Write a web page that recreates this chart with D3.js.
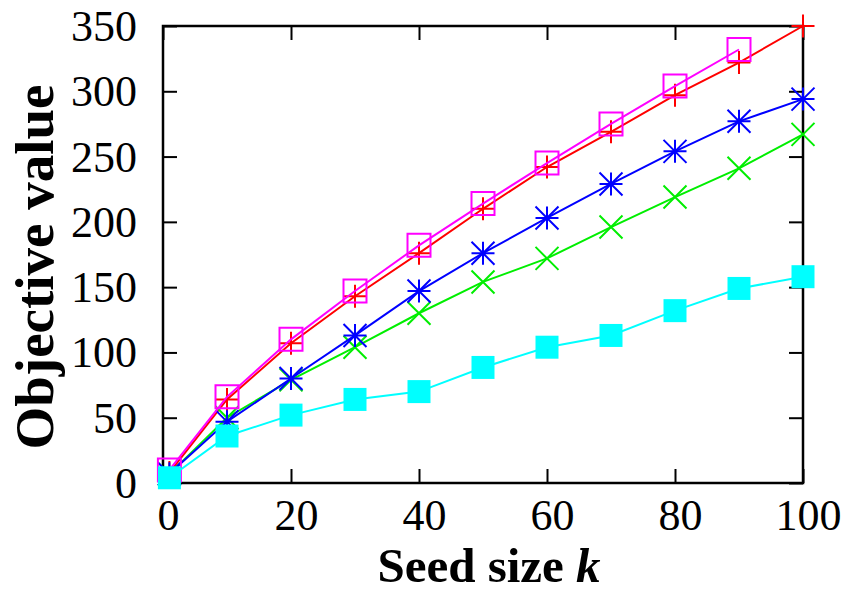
<!DOCTYPE html>
<html>
<head>
<meta charset="utf-8">
<script src="https://cdn.jsdelivr.net/npm/d3@7"></script>
<style>
  body { margin: 0; background: #fff; }
</style>
</head>
<body>
<div id="chart"></div>
<script>
let margin = {top: 26, right: 40, bottom: 110, left: 163},
    width = 843 - margin.left - margin.right,
    height = 593 - margin.top - margin.bottom

// values
const seedSizes = [1, 10, 20, 30, 40, 50, 60, 70, 80, 90, 100]
const redValues = [8, 64, 107, 143, 176, 210, 242, 269, 297, 322, 350]
const greenValues = [7, 50, 79, 104, 130, 154, 172, 196, 219, 241, 267]
const blueValues = [7, 47, 80, 113, 147, 176, 203, 229, 254, 277, 294]
const magentaValues = [10, 66, 110, 147, 182, 214, 245, 275, 304, 332]
const cyanValues = [4, 36, 52, 64, 70, 88.5, 104, 113, 132, 149, 158]

const xTicks = [0, 20, 40, 60, 80, 100]
const yTicks = [0, 50, 100, 150, 200, 250, 300, 350]

let svg = d3.select("#chart")
            .append('svg')
            .attr('width', 843)
            .attr('height', 593)
            .append("g")
            .attr('transform', "translate(" + margin.left + "," + margin.top + ")")

let x = d3.scaleLinear().domain([0, 100]).range([0, width])
let y = d3.scaleLinear().domain([0, 350]).range([height, 0])

const tickFont = "'Liberation Serif', 'Times New Roman', serif"

// axes, ticks pointing inward like gnuplot
let xAxis = svg.append('g')
               .attr('transform', "translate(0," + height + ")")
               .call(d3.axisBottom(x).tickValues(xTicks).tickSize(-14).tickFormat(d3.format("d")))
xAxis.selectAll('text')
     .attr('y', 18).attr('dy', "0.66em").attr('x', 5)
svg.append('g')
   .call(d3.axisTop(x).tickValues(xTicks).tickSize(-14).tickFormat(""))

let yAxis = svg.append('g')
               .call(d3.axisLeft(y).tickValues(yTicks).tickSize(-14).tickFormat(d3.format("d")))
yAxis.selectAll('text')
     .attr('x', -26).attr('dy', "0.33em")
svg.append('g')
   .attr('transform', "translate(" + width + ",0)")
   .call(d3.axisRight(y).tickValues(yTicks).tickSize(-14).tickFormat(""))

svg.selectAll('.domain').remove()
svg.selectAll('.tick line').attr('stroke', 'black').attr('stroke-width', 2)
svg.selectAll('.tick text')
   .attr('fill', 'black')
   .style('font-family', tickFont)
   .style('font-size', '44px')

svg.append('rect')
   .attr('x', 0).attr('y', 0)
   .attr('width', width).attr('height', height)
   .attr('fill', 'none')
   .attr('stroke', 'black')
   .attr('stroke-width', 2.5)

// axis titles
svg.append('text')
   .attr('x', 489 - margin.left)
   .attr('y', 582 - margin.top)
   .attr('text-anchor', 'middle')
   .style('font-family', tickFont)
   .style('font-weight', 'bold')
   .style('font-size', '49px')
   .text("Seed size ")
   .append('tspan')
   .style('font-style', 'italic')
   .text("k")

svg.append('text')
   .attr('transform', "translate(" + (53 - margin.left) + "," + (267 - margin.top) + ")rotate(-90)")
   .attr('text-anchor', 'middle')
   .style('font-family', tickFont)
   .style('font-weight', 'bold')
   .style('font-size', '55px')
   .text("Objective value")

// marker shapes, half size s
const s = 11.5
function plusPath() { return "M" + (-s) + ",0H" + s + "M0," + (-s) + "V" + s }
function crossPath() { return "M" + (-s) + "," + (-s) + "L" + s + "," + s + "M" + (-s) + "," + s + "L" + s + "," + (-s) }
function starPath() { return plusPath() + crossPath() }
function squarePath() { return "M" + (-s) + "," + (-s) + "H" + s + "V" + s + "H" + (-s) + "Z" }

const series = [
    {values: redValues, color: "#ff0000", shape: plusPath, filled: false},
    {values: greenValues, color: "#00ee00", shape: crossPath, filled: false},
    {values: blueValues, color: "#0000ff", shape: starPath, filled: false},
    {values: magentaValues, color: "#ff00ff", shape: squarePath, filled: false},
    {values: cyanValues, color: "#00ffff", shape: squarePath, filled: true}
]

let line = d3.line()
             .x(function(d) { return x(d.k) })
             .y(function(d) { return y(d.v) })

series.forEach(function(ser) {
    let pts = ser.values.map(function(v, i) { return {k: seedSizes[i], v: v} })
    let g = svg.append('g')
    g.append('path')
     .datum(pts)
     .attr('d', line)
     .attr('fill', 'none')
     .attr('stroke', ser.color)
     .attr('stroke-width', 2)
    g.selectAll('.pt')
     .data(pts)
     .enter()
     .append('path')
     .attr('class', 'pt')
     .attr('transform', function(d) { return "translate(" + x(d.k) + "," + y(d.v) + ")" })
     .attr('d', ser.shape)
     .attr('fill', ser.filled ? ser.color : 'none')
     .attr('stroke', ser.color)
     .attr('stroke-width', ser.filled ? 0 : 2)
})
</script>
</body>
</html>
